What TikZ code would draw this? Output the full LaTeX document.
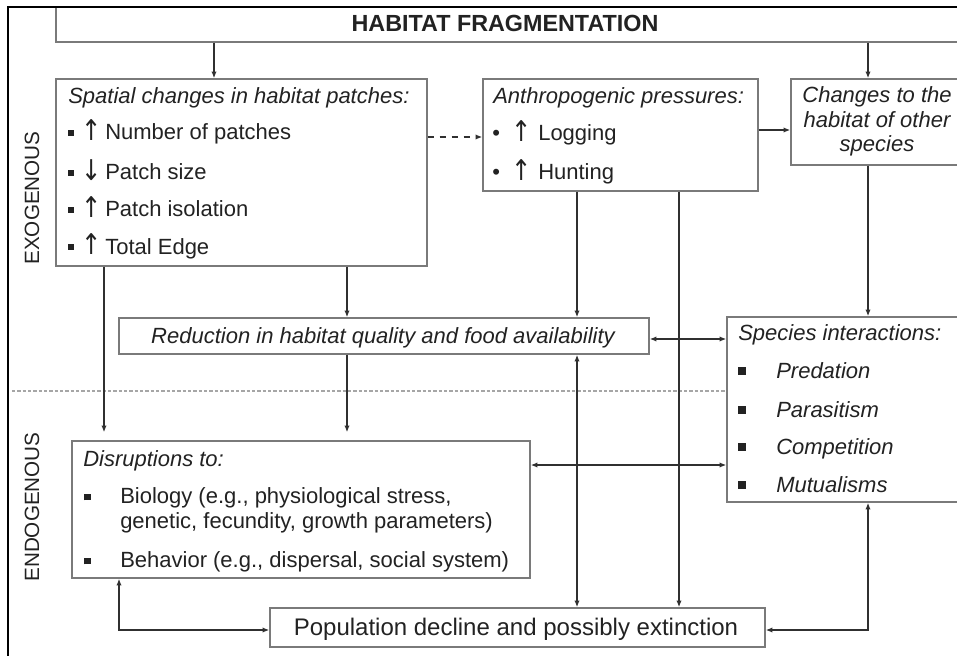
\documentclass[tikz,border=0pt]{standalone}
\usepackage{fontspec}
\setmainfont{Liberation Sans}
\newfontfamily\symf{DejaVu Sans}
\usetikzlibrary{fit,arrows.meta}
\definecolor{txt}{HTML}{222222}
\definecolor{bord}{HTML}{7A7A7A}
\definecolor{conn}{HTML}{303030}
\newcommand{\sqbul}[2]{\raisebox{#2}{\rule{#1}{#1}}}
\newcommand{\arrg}[1]{\raisebox{-0.6pt}{\scalebox{1.1}[1.3]{\symf #1}}}
\newcommand{\spitem}[2]{\makebox[9pt][l]{\sqbul{4.5pt}{3.1pt}}\makebox[16.5pt][c]{\arrg{#1}}\hspace{2.25pt}#2}
\newcommand{\anitem}[1]{\makebox[13.5pt][l]{\textbullet}\makebox[16.5pt][c]{\arrg{↑}}\hspace{4.5pt}#1}
\newcommand{\siitem}[1]{\makebox[28.5pt][l]{\sqbul{6pt}{2.25pt}}\textit{#1}}
\newcommand{\diitem}[1]{\makebox[27pt][l]{\sqbul{5pt}{2pt}}#1}
\begin{document}
\begin{tikzpicture}[x=0.75pt,y=-0.75pt,
  box/.style={draw=bord, line width=1.1pt, inner sep=0pt},
  lbl/.style={inner sep=0pt, text=txt, font=\fontsize{16.5}{20}\selectfont, anchor=base west},
  itl/.style={lbl, font=\fontsize{16.5}{20}\selectfont\itshape},
  ctr/.style={anchor=base},
  side/.style={inner sep=0pt, text=txt, font=\fontsize{15.5}{18}\selectfont, rotate=90},
  arr/.style={draw=conn, line width=1.1pt, -{Latex[length=5pt,width=4pt]}},
  darr/.style={draw=conn, line width=1.1pt, {Latex[length=5pt,width=4pt]}-{Latex[length=5pt,width=4pt]}},
]
\useasboundingbox (0,0) rectangle (957,656);
\clip (0,0) rectangle (957,656);
\fill[white] (0,0) rectangle (957,656);

% boxes
\node[box, fit={(56,7) (1000,42)}] (hf) {};
\node[box, fit={(56,79) (427,266)}] (sp) {};
\node[box, fit={(483,79) (758,191)}] (an) {};
\node[box, fit={(791,79) (1000,165)}] (ch) {};
\node[box, fit={(119,318) (649,354)}] (rd) {};
\node[box, fit={(727,317) (1000,502)}] (si) {};
\node[box, fit={(72,441) (530,578)}] (di) {};
\node[box, fit={(270,608) (765,647)}] (po) {};

% outer frame
\draw[line width=1.6pt, black] (8,700) -- (8,7) -- (1000,7);

% texts
\node[inner sep=0pt, text=txt, anchor=base, font=\fontsize{17.5}{20}\selectfont\bfseries] (hft) at (505,32) {HABITAT FRAGMENTATION};

\node[itl] (sp0) at (68,104) {Spatial changes in habitat patches:};
\node[lbl] (sp1) at (68,140) {\spitem{↑}{Number of patches}};
\node[lbl] (sp2) at (68,180) {\spitem{↓}{Patch size}};
\node[lbl] (sp3) at (68,217) {\spitem{↑}{Patch isolation}};
\node[lbl] (sp4) at (68,254) {\spitem{↑}{Total Edge}};

\node[itl] (an0) at (493,104) {Anthropogenic pressures:};
\node[lbl] (an1) at (492,141) {\anitem{Logging}};
\node[lbl] (an2) at (492,180) {\anitem{Hunting}};

\node[itl, ctr] (ch1) at (877,103) {Changes to the};
\node[itl, ctr] (ch2) at (877,128) {habitat of other};
\node[itl, ctr] (ch3) at (877,152) {species};

\node[itl, ctr] (rdt) at (383,343) {Reduction in habitat quality and food availability};

\node[itl] (si0) at (738,340) {Species interactions:};
\node[lbl] (si1) at (738,378) {\siitem{Predation}};
\node[lbl] (si2) at (738,417) {\siitem{Parasitism}};
\node[lbl] (si3) at (738,454) {\siitem{Competition}};
\node[lbl] (si4) at (738,492) {\siitem{Mutualisms}};

\node[itl] (di0) at (83,466) {Disruptions to:};
\node[lbl] (di1) at (84,503) {\diitem{Biology (e.g., physiological stress,}};
\node[lbl] (di2) at (120,528) {genetic, fecundity, growth parameters)};
\node[lbl] (di3) at (84,567) {\diitem{Behavior (e.g., dispersal, social system)}};

\node[inner sep=0pt, text=txt, anchor=base, font=\fontsize{18}{20}\selectfont] (pot) at (516,635) {Population decline and possibly extinction};

\node[side] (exo) at (32,198) {EXOGENOUS};
\node[side] (endo) at (32,507) {ENDOGENOUS};

% separator
\coordinate (sepL) at (12,391);
\draw[draw=gray!70, line width=0.8pt, dash pattern=on 2.5pt off 1.5pt] (sepL) -- (sepL -| si.west);

% connector columns / rows
\coordinate (c1) at (214,0);
\coordinate (c2) at (868,0);
\coordinate (c3) at (104,0);
\coordinate (c4) at (347,0);
\coordinate (c5) at (577,0);
\coordinate (c6) at (679,0);
\coordinate (c7) at (119,0);
\coordinate (r1) at (0,137);
\coordinate (r2) at (0,130);
\coordinate (r3) at (0,339);
\coordinate (r4) at (0,465);
\coordinate (r5) at (0,630);

\draw[arr] (hf.south -| c1) -- (sp.north -| c1);
\draw[arr] (hf.south -| c2) -- (ch.north -| c2);
\draw[arr, dash pattern=on 5pt off 4pt] (sp.east |- r1) -- (an.west |- r1);
\draw[arr] (an.east |- r2) -- (ch.west |- r2);
\draw[arr] (sp.south -| c4) -- (rd.north -| c4);
\draw[arr] (an.south -| c5) -- (rd.north -| c5);
\draw[arr] (ch.south -| c2) -- (si.north -| c2);
\draw[darr] (rd.east |- r3) -- (si.west |- r3);
\draw[arr, shorten >=6pt] (sp.south -| c3) -- (di.north -| c3);
\draw[arr, shorten >=6pt] (rd.south -| c4) -- (di.north -| c4);
\draw[darr] (di.east |- r4) -- (si.west |- r4);
\draw[darr] (rd.south -| c5) -- (po.north -| c5);
\draw[arr] (an.south -| c6) -- (po.north -| c6);
\draw[darr] (di.south -| c7) -- (c7 |- r5) -- (po.west |- r5);
\draw[darr] (si.south -| c2) -- (c2 |- r5) -- (po.east |- r5);
\end{tikzpicture}
\end{document}
